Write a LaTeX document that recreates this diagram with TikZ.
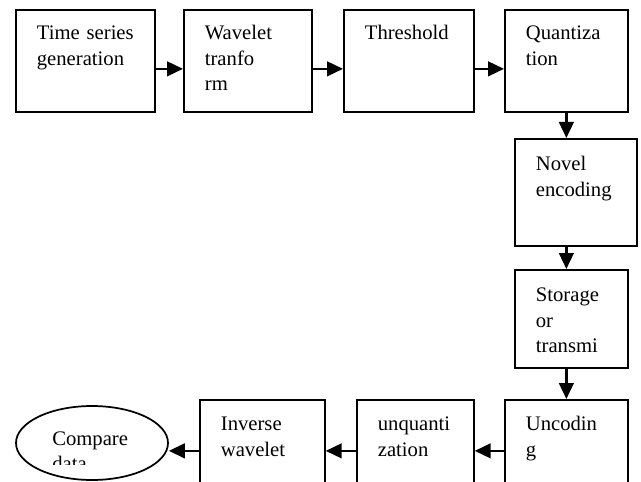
\documentclass[tikz,border=0pt]{standalone}
\usepackage{fontspec}
\setmainfont{Liberation Serif}
\usetikzlibrary{arrows.meta,shapes.geometric}

\tikzset{
	block/.style={draw, line width=1.3pt, inner xsep=21*0.75pt, inner ysep=0pt,
		align=left, anchor=north west, text height=30*0.75pt},
	flow/.style={line width=1.8pt, -{Triangle[length=12pt,width=11pt]}}
}

\begin{document}
\begin{tikzpicture}[x=0.75pt, y=-0.75pt, font=\fontsize{15.5pt}{19pt}\selectfont]
	\useasboundingbox (0,0) rectangle (641,481);
	\clip (0,0) rectangle (641,481);
	% obere Reihe
	\node[block, text width=97*0.75pt, text depth=72*0.75pt] (gen) at (15,9)
	{Time~series\\generation};
	\node[block, text width=86*0.75pt, text depth=72*0.75pt] (wav) at (183,9)
	{Wavelet\\tranfo\\rm};
	\node[block, text width=88*0.75pt, text depth=72*0.75pt] (thr) at (343,9)
	{Threshold};
	\node[block, text width=81*0.75pt, text depth=72*0.75pt] (quant) at (504,9)
	{Quantiza\\tion};
	% rechte Spalte
	\node[block, text width=80*0.75pt, text height=32*0.75pt,
	text depth=75*0.75pt] (novel) at (514,138) {Novel\\encoding};
	\node[block, text width=71*0.75pt, text height=32*0.75pt,
	text depth=66*0.75pt] (stor) at (514,269) {Storage\\or\\transmi};
	% untere Reihe
	\node[block, text width=81*0.75pt, text height=31*0.75pt,
	text depth=71*0.75pt] (unc) at (504,399) {Uncodin\\g};
	\node[block, text width=75*0.75pt, text height=31*0.75pt,
	text depth=71*0.75pt] (unq) at (356,399) {unquanti\\zation};
	\node[block, text width=83*0.75pt, text height=31*0.75pt,
	text depth=71*0.75pt] (inv) at (199,399) {Inverse\\wavelet};
	\node[ellipse, draw, line width=1.3pt, inner sep=0pt,
	minimum width=152*0.75pt, minimum height=74*0.75pt] (cmp) at (92,443) {};
	\begin{scope}
		\clip (0,0) rectangle (641,464);
		\node[anchor=base west, align=left, inner sep=0pt,
		text width=90*0.75pt] (cmptext) at (52,445) {Compare\\data};
	\end{scope}

	% Pfeile
	\draw[flow] ([yshift=-6pt]gen.east) -- ([yshift=-6pt]wav.west);
	\draw[flow] ([yshift=-6pt]wav.east) -- ([yshift=-6pt]thr.west);
	\draw[flow] ([yshift=-6pt]thr.east) -- ([yshift=-6pt]quant.west);
	\draw[flow] (quant.south) -- (quant.south |- novel.north);
	\draw[flow] (novel.south -| quant.south) -- (quant.south |- stor.north);
	\draw[flow] (stor.south -| quant.south) -- (quant.south |- unc.north);
	\draw[flow] (unc.west) -- (unq.east);
	\draw[flow] (unq.west) -- (inv.east);
	\draw[flow] (inv.west) -- (inv.west -| cmp.east);
\end{tikzpicture}
\end{document}
